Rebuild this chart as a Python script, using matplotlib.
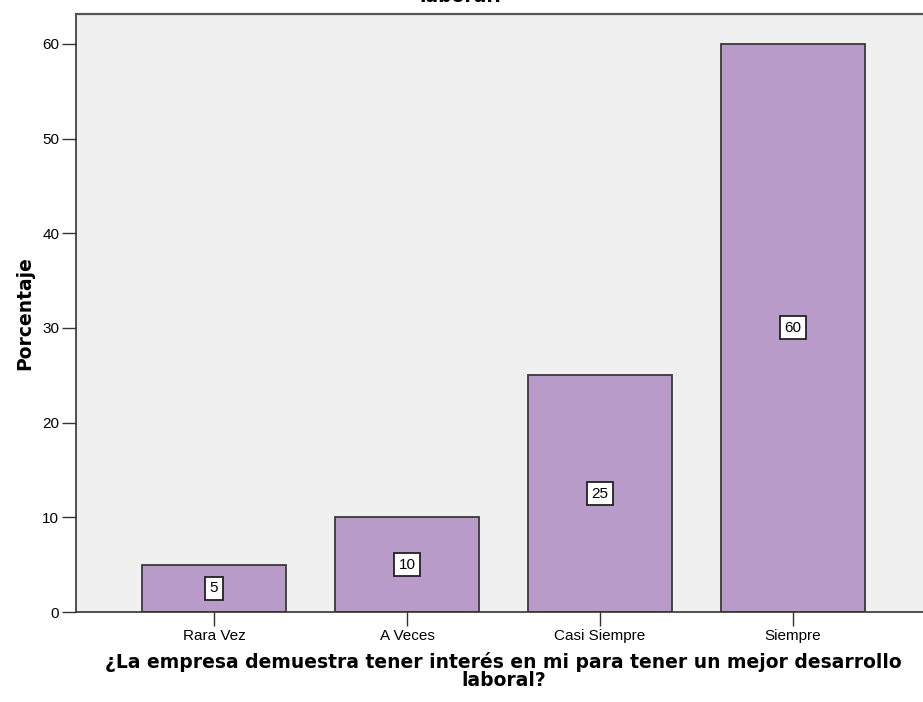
import matplotlib
matplotlib.use("Agg")
import matplotlib.pyplot as plt

categories = ["Rara Vez", "A Veces", "Casi Siempre", "Siempre"]
percentages = [5, 10, 25, 60]
y_ticks = [0, 10, 20, 30, 40, 50, 60]
x_label = "¿La empresa demuestra tener interés en mi para tener un mejor desarrollo\nlaboral?"
y_label = "Porcentaje"
title_tail = "laboral?"

W, H = 923, 702
fig = plt.figure(figsize=(W / 100, H / 100), dpi=100)
fig.patch.set_facecolor("white")

left, right, top, bottom = 76, 931, 13.5, 612
ax = fig.add_axes([left / W, 1 - bottom / H, (right - left) / W, (bottom - top) / H])
ax.set_facecolor("#F0F0F0")

x = list(range(len(categories)))
ax.bar(x, percentages, width=0.75, color="#B89BC9", edgecolor="#3A3A3A", linewidth=1.3, zorder=2)

for xi, v in zip(x, percentages):
    ax.text(xi, v / 2, str(v), ha="center", va="center", fontsize=11,
            family="Liberation Sans", zorder=3,
            bbox=dict(boxstyle="square,pad=0.3", facecolor="white", edgecolor="#222222", linewidth=1.3))

ax.set_xlim(-0.715, 3.715)
ax.set_ylim(0, 63.2)
ax.set_yticks(y_ticks)
ax.set_yticklabels([str(t) for t in y_ticks], family="Liberation Sans", fontsize=11)
ax.set_xticks(x)
ax.set_xticklabels(categories, family="Liberation Sans", fontsize=11)
ax.tick_params(axis="both", direction="out", length=10, width=1, color="#333333", pad=2)

for s in ["left", "bottom"]:
    ax.spines[s].set_color("#333333")
    ax.spines[s].set_linewidth(1.2)
ax.spines["top"].set_color("#555555")
ax.spines["top"].set_linewidth(1.6)
ax.spines["right"].set_visible(False)

ax.set_xlabel(x_label, fontsize=13.5, fontweight="bold", family="DejaVu Sans",
              labelpad=7, linespacing=0.9)
ax.set_ylabel(y_label, fontsize=13.5, fontweight="bold", family="DejaVu Sans", labelpad=6)

fig.text(462 / W, 1 - 1.5 / H, title_tail, ha="center", va="baseline",
         fontsize=13.5, fontweight="bold", family="DejaVu Sans")

fig.savefig("out.png", dpi=100)
